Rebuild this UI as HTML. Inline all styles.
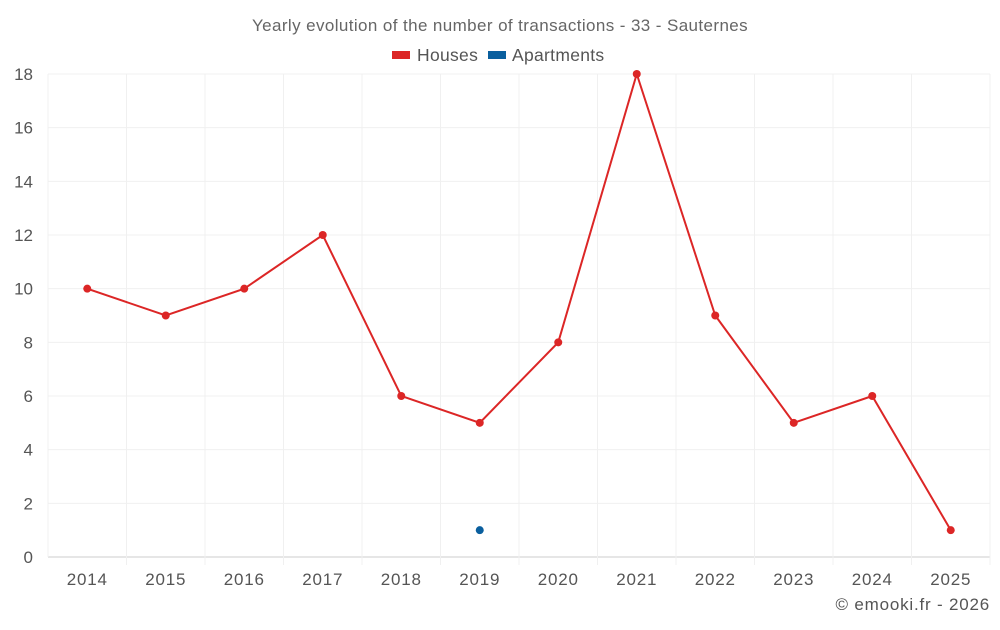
<!DOCTYPE html>
<html><head><meta charset="utf-8"><style>
body{margin:0;background:#fff;font-family:"Liberation Sans",sans-serif;}
svg text{font-family:"Liberation Sans",sans-serif;}
</style></head><body>
<svg id="c" width="1000" height="625" xmlns="http://www.w3.org/2000/svg">
<text x="500" y="31" text-anchor="middle" font-size="17" letter-spacing="0.4" fill="#666">Yearly evolution of the number of transactions - 33 - Sauternes</text>
<g>
<g><rect x="392" y="51" width="18" height="8" fill="#dc2626"/><text x="417" y="61" font-size="17.5" letter-spacing="0.3" fill="#555">Houses</text></g>
<g><rect x="488" y="51" width="18" height="8" fill="#0a5f9e"/><text x="512" y="61" font-size="17.5" letter-spacing="0.3" fill="#555">Apartments</text></g>
</g>
<g id="grid"></g><g id="axes"></g><g id="series"></g>
<text x="990" y="610" text-anchor="end" font-size="17" letter-spacing="0.8" fill="#555">© emooki.fr - 2026</text>
</svg>
<script>
const years=["2014","2015","2016","2017","2018","2019","2020","2021","2022","2023","2024","2025"];
const houses=[10,9,10,12,6,5,8,18,9,5,6,1];
const apartments=[null,null,null,null,null,1,null,null,null,null,null,null];
const yTicks=[0,2,4,6,8,10,12,14,16,18];
const L=48,R=990,T=74,B=557,yMax=18;
const bw=(R-L)/years.length;
const xs=i=>L+bw*(i+0.5);
const ys=v=>B-(v/yMax)*(B-T);
const NS="http://www.w3.org/2000/svg";
function mk(tag,attrs,parent){const e=document.createElementNS(NS,tag);for(const k in attrs)e.setAttribute(k,attrs[k]);parent.appendChild(e);return e;}
const grid=document.getElementById('grid'),axes=document.getElementById('axes'),series=document.getElementById('series');
yTicks.forEach(t=>{
 const l=mk('line',{x1:L,x2:R,y1:ys(t),y2:ys(t),stroke:t===0?'#ccc':'#f0f0f0'},grid);
 
 
 const tx=mk('text',{x:33,y:ys(t)+6,'text-anchor':'end','font-size':17,fill:'#555'},axes);
 tx.textContent=t;
 
 
});
for(let i=0;i<=years.length;i++){
 const l=mk('line',{x1:L+bw*i,x2:L+bw*i,y1:T,y2:B+(i>0?8:0),stroke:'#f0f0f0'},grid);
 
 
}
years.forEach((y,i)=>{
 const tx=mk('text',{x:xs(i),y:585,'text-anchor':'middle','font-size':17,'letter-spacing':0.8,fill:'#555'},axes);
 tx.textContent=y;
 
 
});
const pl=mk('polyline',{points:houses.map((v,i)=>xs(i)+','+ys(v)).join(' '),fill:'none',stroke:'#dc2626','stroke-width':2},series);


houses.forEach((v,i)=>{
 const c=mk('circle',{cx:xs(i),cy:ys(v),r:4,fill:'#dc2626'},series);
 
 
});
apartments.forEach((v,i)=>{
 if(v==null)return;
 const c=mk('circle',{cx:xs(i),cy:ys(v),r:4,fill:'#0a5f9e'},series);
 
 
});
</script>
</body></html>
